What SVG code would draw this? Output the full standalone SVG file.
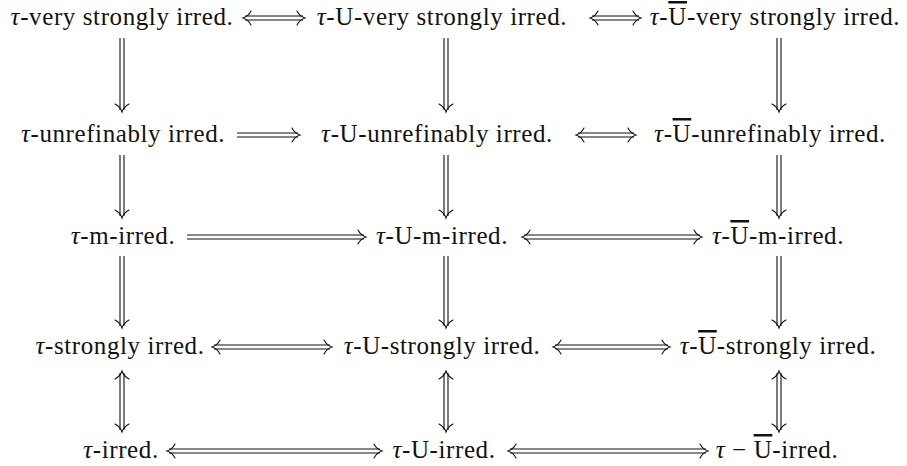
<svg xmlns="http://www.w3.org/2000/svg" xmlns:xlink="http://www.w3.org/1999/xlink" width="907" height="466" viewBox="0 0 907 466">
<style>
text{font-family:"Liberation Serif","Times New Roman",serif;font-size:25px;letter-spacing:0.6px;fill:#111;text-anchor:middle}
.t{font-style:italic}
.o{text-decoration:overline;text-decoration-thickness:1.3px}
.ln{stroke:#111;stroke-width:1.1;fill:none}
.hd{stroke:#111;stroke-width:1.1;fill:none;stroke-linecap:round}
</style>
<defs>
<path id="hR" class="hd" d="M-8,-7 C-6,-3 -3,-1 0,0 C-3,1 -6,3 -8,7"/>
<path id="hL" class="hd" d="M8,-7 C6,-3 3,-1 0,0 C3,1 6,3 8,7"/>
<path id="hD" class="hd" d="M-7,-8 C-3,-6 -1,-3 0,0 C1,-3 3,-6 7,-8"/>
<path id="hU" class="hd" d="M-7,8 C-3,6 -1,3 0,0 C1,3 3,6 7,8"/>
</defs>
<rect width="907" height="466" fill="#fff"/>
<g id="connectors">
<!-- row 1 -->
<path class="ln" d="M245,16H303M245,20H303"/><use xlink:href="#hL" x="243" y="18"/><use xlink:href="#hR" x="305" y="18"/>
<path class="ln" d="M592,16H639M592,20H639"/><use xlink:href="#hL" x="590" y="18"/><use xlink:href="#hR" x="641" y="18"/>
<!-- row 2 -->
<path class="ln" d="M237,133H298M237,137H298"/><use xlink:href="#hR" x="300" y="135"/>
<path class="ln" d="M578,133H634M578,137H634"/><use xlink:href="#hL" x="576" y="135"/><use xlink:href="#hR" x="636" y="135"/>
<!-- row 3 -->
<path class="ln" d="M187,235H364M187,239H364"/><use xlink:href="#hR" x="366" y="237"/>
<path class="ln" d="M524,235H700M524,239H700"/><use xlink:href="#hL" x="522" y="237"/><use xlink:href="#hR" x="702" y="237"/>
<!-- row 4 -->
<path class="ln" d="M214,345H330M214,349H330"/><use xlink:href="#hL" x="212" y="347"/><use xlink:href="#hR" x="332" y="347"/>
<path class="ln" d="M555,345H668M555,349H668"/><use xlink:href="#hL" x="553" y="347"/><use xlink:href="#hR" x="670" y="347"/>
<!-- row 5 -->
<path class="ln" d="M169,449H380M169,453H380"/><use xlink:href="#hL" x="167" y="451"/><use xlink:href="#hR" x="382" y="451"/>
<path class="ln" d="M510,449H706M510,453H706"/><use xlink:href="#hL" x="508" y="451"/><use xlink:href="#hR" x="708" y="451"/>
<!-- verticals col 1 -->
<path class="ln" d="M120,38V110M124,38V110"/><use xlink:href="#hD" x="122" y="112"/>
<path class="ln" d="M120,155V216M124,155V216"/><use xlink:href="#hD" x="122" y="218"/>
<path class="ln" d="M120,256V326M124,256V326"/><use xlink:href="#hD" x="122" y="328"/>
<path class="ln" d="M120,373V430M124,373V430"/><use xlink:href="#hU" x="122" y="371"/><use xlink:href="#hD" x="122" y="432"/>
<!-- verticals col 2 -->
<path class="ln" d="M444,38V110M448,38V110"/><use xlink:href="#hD" x="446" y="112"/>
<path class="ln" d="M444,155V216M448,155V216"/><use xlink:href="#hD" x="446" y="218"/>
<path class="ln" d="M444,256V326M448,256V326"/><use xlink:href="#hD" x="446" y="328"/>
<path class="ln" d="M444,373V430M448,373V430"/><use xlink:href="#hU" x="446" y="371"/><use xlink:href="#hD" x="446" y="432"/>
<!-- verticals col 3 -->
<path class="ln" d="M777,38V110M781,38V110"/><use xlink:href="#hD" x="779" y="112"/>
<path class="ln" d="M777,155V216M781,155V216"/><use xlink:href="#hD" x="779" y="218"/>
<path class="ln" d="M777,256V326M781,256V326"/><use xlink:href="#hD" x="779" y="328"/>
<path class="ln" d="M777,373V430M781,373V430"/><use xlink:href="#hU" x="779" y="371"/><use xlink:href="#hD" x="779" y="432"/>
</g>
<g id="n11"><text x="122" y="25"><tspan class="t">τ</tspan>-very strongly irred.</text></g>
<g id="n12"><text x="442" y="25"><tspan class="t">τ</tspan>-U-very strongly irred.</text></g>
<g id="n13"><text x="775" y="25"><tspan class="t">τ</tspan>-<tspan class="o">U</tspan>-very strongly irred.</text></g>
<g id="n21"><text x="123" y="142"><tspan class="t">τ</tspan>-unrefinably irred.</text></g>
<g id="n22"><text x="437" y="142"><tspan class="t">τ</tspan>-U-unrefinably irred.</text></g>
<g id="n23"><text x="770" y="142"><tspan class="t">τ</tspan>-<tspan class="o">U</tspan>-unrefinably irred.</text></g>
<g id="n31"><text x="123" y="244"><tspan class="t">τ</tspan>-m-irred.</text></g>
<g id="n32"><text x="442" y="244"><tspan class="t">τ</tspan>-U-m-irred.</text></g>
<g id="n33"><text x="778" y="244"><tspan class="t">τ</tspan>-<tspan class="o">U</tspan>-m-irred.</text></g>
<g id="n41"><text x="120" y="354"><tspan class="t">τ</tspan>-strongly irred.</text></g>
<g id="n42"><text x="442" y="354"><tspan class="t">τ</tspan>-U-strongly irred.</text></g>
<g id="n43"><text x="778" y="354"><tspan class="t">τ</tspan>-<tspan class="o">U</tspan>-strongly irred.</text></g>
<g id="n51"><text x="121" y="458"><tspan class="t">τ</tspan>-irred.</text></g>
<g id="n52"><text x="444" y="458"><tspan class="t">τ</tspan>-U-irred.</text></g>
<g id="n53"><text x="777" y="458"><tspan class="t">τ</tspan> − <tspan class="o">U</tspan>-irred.</text></g>
</svg>
